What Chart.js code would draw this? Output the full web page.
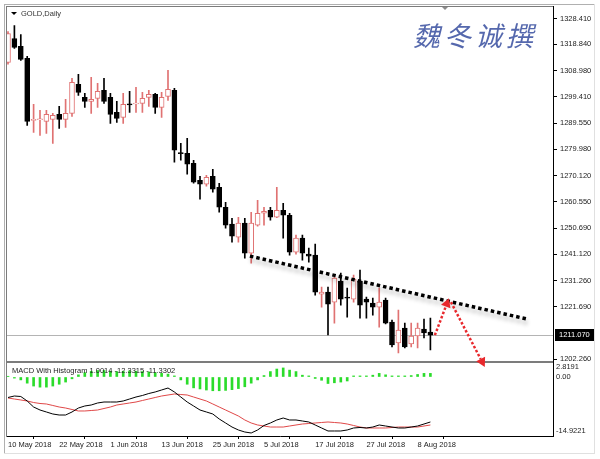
<!DOCTYPE html>
<html>
<head>
<meta charset="utf-8">
<title>GOLD Daily</title>
<script src="https://cdn.jsdelivr.net/npm/chart.js@4.4.1/dist/chart.umd.min.js"></script>
<style>
	html, body { margin: 0; padding: 0; background: #fff; }
	#wrap { position: relative; width: 600px; height: 459px; overflow: hidden; }
	#wrap canvas { position: absolute; left: 0; top: 0; }
	#macdChart { z-index: 1; }
	#priceChart { z-index: 2; }
</style>
</head>
<body>
<div id="wrap">
	<canvas id="macdChart" width="600" height="459"></canvas>
	<canvas id="priceChart" width="600" height="459"></canvas>
</div>
<script>
// Daily candles, 10 May 2018 .. 10 Aug 2018 (one entry per trading day)
const opens = [
	1312.13, 1321.01, 1318.05, 1313.61, 1290.68, 1290.90, 1290.31, 1291.05, 1292.90, 1291.05,
	1293.27, 1303.99, 1299.18, 1297.71, 1298.81, 1301.77, 1299.18, 1293.64, 1291.79, 1296.80,
	1296.80, 1296.97, 1299.18, 1300.29, 1295.49, 1299.55, 1301.77, 1278.70, 1278.47, 1274.77,
	1268.48, 1267.00, 1269.96, 1265.89, 1258.49, 1252.20, 1247.39, 1252.57, 1241.48, 1251.83,
	1256.27, 1257.38, 1254.79, 1257.38, 1255.53, 1241.85, 1247.02, 1241.10, 1240.73, 1226.30,
	1227.05, 1223.35, 1231.12, 1225.20, 1224.46, 1231.12, 1224.46, 1222.98, 1221.50, 1224.09,
	1215.95, 1208.18, 1213.73, 1207.81, 1210.77, 1213.36, 1212.25
];
const highs = [
	1323.60, 1325.82, 1322.49, 1314.35, 1296.60, 1294.38, 1294.38, 1293.27, 1295.86, 1298.44,
	1306.20, 1307.69, 1300.66, 1306.58, 1304.36, 1306.20, 1300.66, 1297.71, 1300.66, 1301.40,
	1302.88, 1301.03, 1301.77, 1300.66, 1301.03, 1309.17, 1302.51, 1282.17, 1284.02, 1275.88,
	1269.96, 1270.33, 1272.55, 1267.37, 1260.34, 1254.42, 1254.79, 1254.42, 1256.64, 1261.08,
	1258.49, 1258.49, 1265.89, 1259.97, 1256.27, 1248.13, 1248.13, 1243.33, 1244.80, 1228.90,
	1228.90, 1232.60, 1234.08, 1228.53, 1233.34, 1235.18, 1225.20, 1224.83, 1228.53, 1224.83,
	1216.69, 1220.39, 1215.58, 1215.58, 1215.58, 1217.06, 1217.43
];
const lows = [
	1311.50, 1317.31, 1312.87, 1288.83, 1286.24, 1285.13, 1285.87, 1282.17, 1287.72, 1288.09,
	1292.16, 1299.92, 1295.49, 1293.27, 1295.49, 1296.97, 1289.57, 1289.94, 1289.57, 1293.64,
	1293.64, 1293.64, 1295.86, 1293.27, 1291.79, 1298.08, 1275.14, 1275.88, 1270.70, 1267.37,
	1261.45, 1266.26, 1264.04, 1256.64, 1250.72, 1245.54, 1245.54, 1239.62, 1237.77, 1251.46,
	1251.83, 1253.68, 1254.60, 1247.02, 1240.73, 1241.10, 1238.88, 1238.14, 1225.94, 1221.50,
	1211.14, 1215.58, 1222.24, 1217.80, 1223.35, 1217.43, 1217.43, 1218.54, 1214.10, 1215.30,
	1206.70, 1204.48, 1206.33, 1206.70, 1206.33, 1210.03, 1205.59
];
const closes = [
	1322.86, 1317.68, 1313.24, 1290.31, 1291.05, 1291.20, 1292.90, 1292.53, 1291.05, 1293.27,
	1304.73, 1301.03, 1297.71, 1298.44, 1301.40, 1297.71, 1292.90, 1291.42, 1296.60, 1296.40,
	1297.10, 1298.81, 1300.29, 1295.49, 1299.18, 1302.14, 1279.58, 1278.30, 1274.40, 1267.74,
	1267.00, 1269.59, 1265.15, 1258.49, 1251.83, 1247.76, 1252.57, 1241.48, 1252.57, 1256.27,
	1257.01, 1254.79, 1257.38, 1255.53, 1241.85, 1247.02, 1241.48, 1240.36, 1227.05, 1227.05,
	1222.61, 1232.23, 1224.46, 1224.83, 1231.86, 1222.24, 1223.35, 1221.50, 1223.35, 1215.58,
	1207.44, 1212.99, 1206.70, 1210.77, 1213.73, 1211.88, 1211.07
];

// MACD sub window
const macdLine = [
	-5.66, -5.25, -5.39, -6.63, -8.29, -9.12, -9.67, -10.22, -10.50, -10.50,
	-9.67, -8.57, -8.01, -7.74, -7.18, -6.91, -6.91, -6.91, -6.63, -6.08,
	-5.53, -5.11, -4.56, -4.14, -3.59, -3.04, -4.14, -5.53, -6.91, -8.01,
	-9.12, -9.67, -10.22, -11.60, -12.71, -13.82, -14.64, -15.20, -15.47, -14.64,
	-13.40, -12.71, -11.88, -11.33, -11.88, -11.88, -12.16, -12.43, -13.26, -14.09,
	-14.92, -14.92, -14.92, -14.64, -14.09, -13.95, -14.09, -13.82, -13.26, -13.54,
	-13.82, -14.09, -14.09, -13.82, -13.54, -12.99, -12.43
];
const signalLine = [
	-5.80, -6.08, -6.35, -6.63, -7.05, -7.32, -7.46, -7.87, -8.29, -8.57,
	-8.98, -9.39, -9.39, -9.26, -9.12, -8.70, -8.29, -7.74, -7.46, -7.18,
	-6.91, -6.49, -6.08, -5.66, -5.25, -4.97, -4.70, -4.84, -4.97, -5.53,
	-6.08, -6.63, -7.46, -8.29, -9.12, -9.95, -10.78, -11.88, -12.71, -13.26,
	-13.54, -13.82, -13.82, -13.82, -13.54, -13.26, -12.99, -12.85, -12.71, -12.57,
	-12.43, -12.57, -12.71, -12.99, -13.40, -13.82, -14.09, -14.09, -14.09, -14.09,
	-13.95, -13.82, -13.82, -13.82, -13.82, -13.54, -13.26
];
const histogram = [
	0.2, -0.3, -0.8, -1.7, -2.5, -2.8, -2.8, -2.5, -2.0, -1.4,
	-0.5, 0.6, 1.2, 1.6, 1.8, 1.8, 1.6, 1.5, 1.6, 1.7,
	1.6, 1.5, 1.4, 1.2, 1.0, 0.8, 0.3, -0.8, -2.0, -3.0,
	-3.3, -3.6, -3.8, -3.8, -3.7, -3.5, -3.2, -2.7, -1.7, -0.8,
	0.4, 1.5, 2.2, 2.5, 1.9, 1.5, 0.5, 0.3, -0.4, -0.9,
	-1.8, -1.6, -1.4, -1.1, 0.3, 0.3, 0.3, 0.5, 1.0, 0.6,
	0.3, 0.3, 0.3, 0.4, 0.7, 1.0, 1.0
];
const macdTitle = 'MACD With Histogram 1.0014 -12.3315 -11.3302';

// axis labels
const priceTicks = [1328.41, 1318.84, 1308.98, 1299.41, 1289.55, 1279.98, 1270.12, 1260.55, 1250.69, 1241.12, 1231.26, 1221.69, 1202.26];
const macdTicks = [2.8191, 0, -14.9221];
const dateTickBars = [0, 8, 16, 24, 32, 40, 48, 56, 64];
const dateLabels = ['10 May 2018', '22 May 2018', '1 Jun 2018', '13 Jun 2018', '25 Jun 2018', '5 Jul 2018', '17 Jul 2018', '27 Jul 2018', '8 Aug 2018'];
const lastPrice = 1211.07;

// drawn objects, in [bar, price]
const trendLine = [[37.8, 1240.37], [81.1, 1217.06]];
const arrowPath = [[66.7, 1211.1], [68.9, 1224.8], [74.5, 1199.3]];

document.addEventListener('DOMContentLoaded', function() {
	try
	{
		Chart.defaults.font.family = 'Liberation Sans';
		Chart.defaults.font.size = 7.5;
		Chart.defaults.color = '#222';

		const bullColor = '#e07272';
		const isUp = i => closes[i] >= opens[i];
		const xMin = -0.15625, xMax = 85.15625;

		// frame lines of the terminal window
		const framePlugin = {
			id: 'frame',
			beforeDraw(chart) {
				const c = chart.ctx;
				c.save();
				c.fillStyle = '#ffffff';
				c.fillRect(0, 0, 600, 459);
				c.fillStyle = '#b0b0b0';
				c.fillRect(4, 4, 591, 1);
				c.fillRect(4, 4, 1, 450);
				c.fillStyle = '#e0e0e0';
				c.fillRect(594, 4, 1, 450);
				c.fillRect(4, 453, 591, 1);
				c.fillStyle = '#7c7c7c';
				c.fillRect(6, 6, 548, 1);
				c.fillRect(6, 6, 1, 431);
				c.fillRect(7, 361, 547, 2);
				c.fillStyle = '#000';
				c.fillRect(553, 6, 1, 431);
				c.restore();
			},
			afterDatasetsDraw(chart) {
				const c = chart.ctx;
				c.save();
				c.font = '7.5px "Liberation Sans"';
				c.fillStyle = '#222';
				c.textBaseline = 'middle';
				c.fillText(macdTitle, 12, 371);
				c.restore();
			}
		};

		// trend line, arrows, price tag and texts
		const markupPlugin = {
			id: 'markup',
			beforeDatasetsDraw(chart) {
				const c = chart.ctx;
				const y = Math.round(chart.scales.y.getPixelForValue(lastPrice)) + 0.5;
				c.save();
				c.strokeStyle = '#b4b4b4';
				c.lineWidth = 1;
				c.beginPath();
				c.moveTo(chart.chartArea.left, y);
				c.lineTo(chart.chartArea.right, y);
				c.stroke();
				c.restore();
			},
			afterDatasetsDraw(chart) {
				const c = chart.ctx;
				const sx = chart.scales.x, sy = chart.scales.y;
				const px = p => [sx.getPixelForValue(p[0]), sy.getPixelForValue(p[1])];

				c.save();
				// dotted trend line with soft shadow
				const t0 = px(trendLine[0]), t1 = px(trendLine[1]);
				c.shadowColor = 'rgba(0,0,0,0.3)';
				c.shadowBlur = 4;
				c.shadowOffsetX = 1;
				c.shadowOffsetY = 4;
				c.strokeStyle = '#000';
				c.lineWidth = 3.5;
				c.setLineDash([3.5, 3]);
				c.beginPath();
				c.moveTo(t0[0], t0[1]);
				c.lineTo(t1[0], t1[1]);
				c.stroke();
				c.restore();

				// red dotted arrows
				const red = '#e8282c';
				const arrow = (a, b) => {
					const ang = Math.atan2(b[1] - a[1], b[0] - a[0]);
					const len = 9;
					const end = [b[0] - Math.cos(ang) * len, b[1] - Math.sin(ang) * len];
					c.save();
					c.strokeStyle = red;
					c.lineWidth = 2.5;
					c.setLineDash([2.5, 2]);
					c.beginPath();
					c.moveTo(a[0], a[1]);
					c.lineTo(end[0], end[1]);
					c.stroke();
					c.setLineDash([]);
					c.fillStyle = red;
					c.beginPath();
					c.moveTo(b[0], b[1]);
					c.lineTo(end[0] + Math.cos(ang + Math.PI / 2) * 5, end[1] + Math.sin(ang + Math.PI / 2) * 5);
					c.lineTo(end[0] + Math.cos(ang - Math.PI / 2) * 5, end[1] + Math.sin(ang - Math.PI / 2) * 5);
					c.closePath();
					c.fill();
					c.restore();
				};
				const a0 = px(arrowPath[0]), a1 = px(arrowPath[1]), a2 = px(arrowPath[2]);
				arrow(a0, a1);
				arrow([a1[0] + 2, a1[1] + 4], a2);

				// current price tag
				const ty = Math.round(sy.getPixelForValue(lastPrice));
				c.save();
				c.fillStyle = '#000';
				c.fillRect(555, ty - 6, 39, 12);
				c.fillStyle = '#fff';
				c.font = '7.5px "Liberation Sans"';
				c.textBaseline = 'middle';
				c.fillText(lastPrice.toFixed(3), 559, ty);

				// symbol caption
				c.fillStyle = '#000';
				c.beginPath();
				c.moveTo(11, 12);
				c.lineTo(17, 12);
				c.lineTo(14, 15);
				c.closePath();
				c.fill();
				c.fillStyle = '#333';
				c.fillText('GOLD,Daily', 21, 14);

				// chart shift marker
				c.fillStyle = '#8a8a8a';
				c.beginPath();
				c.moveTo(442, 7);
				c.lineTo(448, 7);
				c.lineTo(445, 10);
				c.closePath();
				c.fill();

				// signature
				c.fillStyle = '#5568ad';
				c.font = 'italic 27px "Noto Sans CJK SC"';
				c.textBaseline = 'alphabetic';
				const sign = ['魏', '冬', '诚', '撰'];
				sign.forEach((ch, k) => c.fillText(ch, 413 + k * 31, 46));
				c.restore();
			}
		};

		new Chart(document.getElementById('macdChart'), {
			type: 'bar',
			data: {
				datasets: [
					{
						type: 'line',
						data: macdLine.map((v, i) => ({ x: i, y: v })),
						borderColor: '#000000',
						borderWidth: 1,
						pointRadius: 0,
						tension: 0
					},
					{
						type: 'line',
						data: signalLine.map((v, i) => ({ x: i, y: v })),
						borderColor: '#e04848',
						borderWidth: 1,
						pointRadius: 0,
						tension: 0
					},
					{
						type: 'bar',
						data: histogram.map((v, i) => ({ x: i, y: [0, v] })),
						backgroundColor: '#2bdc2b',
						borderWidth: 0,
						barThickness: 2,
						grouped: false
					}
				]
			},
			options: {
				responsive: false,
				devicePixelRatio: 1,
				animation: false,
				layout: { padding: { left: 7, top: 364, right: 0, bottom: 0 } },
				plugins: { legend: { display: false }, tooltip: { enabled: false } },
				scales: {
					x: {
						type: 'linear',
						min: xMin,
						max: xMax,
						offset: false,
						afterBuildTicks: scale => { scale.ticks = dateTickBars.map(v => ({ value: v })); },
						afterFit: scale => { scale.height = 23; },
						ticks: {
							callback: (v, i) => dateLabels[i],
							align: 'start',
							autoSkip: false,
							maxRotation: 0,
							padding: 1,
							color: '#222'
						},
						grid: { drawOnChartArea: false, color: '#000', tickLength: 3 },
						border: { color: '#000' }
					},
					y: {
						position: 'right',
						min: -16.302,
						max: 3.592,
						afterBuildTicks: scale => { scale.ticks = macdTicks.map(v => ({ value: v })); },
						afterFit: scale => { scale.width = 47; },
						ticks: {
							callback: v => v === 0 ? '0.00' : v.toFixed(4),
							padding: 3,
							color: '#222'
						},
						grid: { drawOnChartArea: false, drawTicks: false, tickLength: 4 },
						border: { color: '#000' }
					}
				}
			},
			plugins: [framePlugin]
		});

		new Chart(document.getElementById('priceChart'), {
			type: 'bar',
			data: {
				datasets: [
					{
						label: 'body',
						data: opens.map((o, i) => ({ x: i, y: [o, closes[i]] })),
						backgroundColor: ctx => isUp(ctx.dataIndex) ? '#ffffff' : '#000000',
						borderColor: ctx => isUp(ctx.dataIndex) ? bullColor : '#000000',
						borderWidth: 1,
						borderSkipped: false,
						barThickness: 5,
						grouped: false
					},
					{
						label: 'wick',
						data: highs.map((h, i) => ({ x: i, y: [lows[i], h] })),
						backgroundColor: ctx => isUp(ctx.dataIndex) ? bullColor : '#000000',
						borderWidth: 0,
						barThickness: 1,
						grouped: false
					}
				]
			},
			options: {
				responsive: false,
				devicePixelRatio: 1,
				animation: false,
				layout: { padding: { left: 7, top: 7, right: 0, bottom: 98 } },
				plugins: { legend: { display: false }, tooltip: { enabled: false } },
				scales: {
					x: { type: 'linear', min: xMin, max: xMax, offset: false, display: false },
					y: {
						position: 'right',
						min: 1201.521,
						max: 1332.479,
						afterBuildTicks: scale => { scale.ticks = priceTicks.map(v => ({ value: v })); },
						afterFit: scale => { scale.width = 47; },
						ticks: {
							callback: v => v.toFixed(3),
							padding: 3,
							color: '#222'
						},
						grid: { drawOnChartArea: false, color: '#000', tickLength: 4 },
						border: { color: '#000' }
					}
				}
			},
			plugins: [markupPlugin]
		});
	}
	catch (error) {
		console.error("Error loading charts:", error);
	}
});
</script>
</body>
</html>
